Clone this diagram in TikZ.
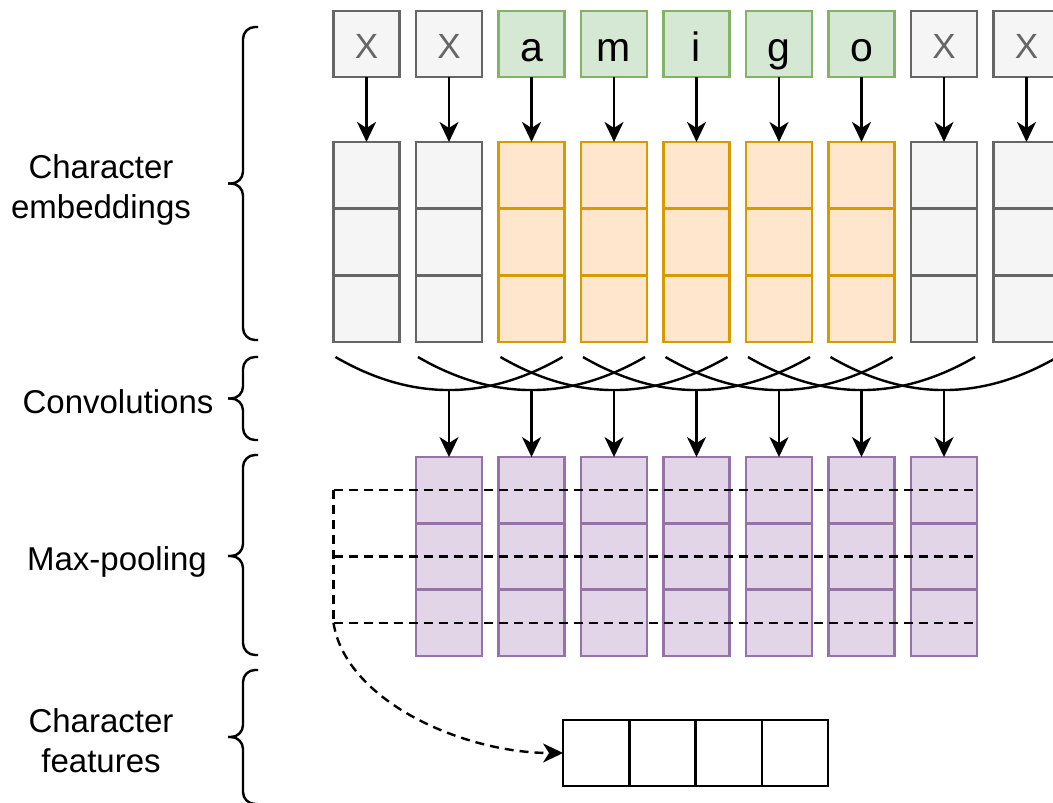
\documentclass[tikz,border=0pt]{standalone}
\usepackage{fontspec}
\setmainfont{Liberation Sans}
\usetikzlibrary{arrows.meta, positioning, calc}
\definecolor{PadFill}{HTML}{F5F5F5}
\definecolor{PadLine}{HTML}{666666}
\definecolor{CharFill}{HTML}{D5E8D4}
\definecolor{CharLine}{HTML}{82B366}
\definecolor{EmbFill}{HTML}{FFE6CC}
\definecolor{EmbLine}{HTML}{D79B00}
\definecolor{PoolFill}{HTML}{E1D5E7}
\definecolor{PoolLine}{HTML}{9673A6}
\tikzset{
  cell/.style={
    rectangle, line width=2.4pt, outer sep=0pt, inner sep=0pt,
    minimum width=66pt, minimum height=66.7pt
  },
  padbox/.style={
    cell, draw=PadLine, fill=PadFill, text=PadLine, minimum height=66pt,
    font=\fontsize{35}{35}\selectfont, text height=29pt, text depth=1pt
  },
  charbox/.style={
    cell, draw=CharLine, fill=CharFill, text=black, minimum height=66pt,
    font=\fontsize{41}{41}\selectfont, text height=35pt, text depth=1pt
  },
  padcell/.style={cell, draw=PadLine, fill=PadFill},
  embcell/.style={cell, draw=EmbLine, fill=EmbFill},
  poolcell/.style={cell, draw=PoolLine, fill=PoolFill, minimum height=66.3pt},
  featcell/.style={cell, draw=black, fill=white, minimum width=66.3pt, minimum height=66pt},
  stagelabel/.style={font=\fontsize{33}{40}\selectfont, align=center},
  stagebrace/.style={line width=2.4pt, rounded corners=12pt},
  convcurve/.style={line width=2.4pt},
  poolline/.style={line width=2.4pt, dash pattern=on 9pt off 6pt},
  arrow/.style={
    -{Stealth[length=20pt, width=19pt, inset=6pt]},
    line width=2.4pt
  }
}

\begin{document}
\begin{tikzpicture}[x=1pt, y=-1pt]

\useasboundingbox (0,0) rectangle (1053,803);

% ── Characters and their embedding columns ───────────────────────────────────

\foreach \k/\ch in {1/X, 2/X, 8/X, 9/X} {
  \node[padbox] (t\k) at ({366.5+82.5*(\k-1)}, 44) {\ch};
  \node[padcell] (e\k a) at ({366.5+82.5*(\k-1)}, 175.3) {};
  \node[padcell, below=0pt of e\k a] (e\k b) {};
  \node[padcell, below=0pt of e\k b] (e\k c) {};
  \draw[arrow] (t\k.south) -- (e\k a.north);
}

\foreach \k/\ch in {3/a, 4/m, 5/i, 6/g, 7/o} {
  \node[charbox] (t\k) at ({366.5+82.5*(\k-1)}, 44) {\ch};
  \node[embcell] (e\k a) at ({366.5+82.5*(\k-1)}, 175.3) {};
  \node[embcell, below=0pt of e\k a] (e\k b) {};
  \node[embcell, below=0pt of e\k b] (e\k c) {};
  \draw[arrow] (t\k.south) -- (e\k a.north);
}

% ── Max-pooling columns ──────────────────────────────────────────────────────

\foreach \i [evaluate=\i as \j using int(\i+1)] in {1,...,7} {
  \node[poolcell] (q\i a) at (e\j a |- 0,490.2) {};
  \node[poolcell, below=0pt of q\i a] (q\i b) {};
  \node[poolcell, below=0pt of q\i b] (q\i c) {};
}

% ── Convolution windows (three columns each) ─────────────────────────────────

\foreach \i [evaluate=\i as \j using int(\i+1), evaluate=\i as \k using int(\i+2)] in {1,...,7} {
  \coordinate (cv\i l) at ($(e\i c.south west)+(2,15)$);
  \coordinate (cv\i m) at ($(e\j c.south)+(0,48)$);
  \coordinate (cv\i r) at ($(e\k c.south east)+(-2,15)$);
  \draw[convcurve] (cv\i l) .. controls +(38,22) and +(-38,0) .. (cv\i m)
    .. controls +(38,0) and +(-38,22) .. (cv\i r);
  \draw[arrow] (cv\i m) -- (q\i a.north);
}

% ── Character features ───────────────────────────────────────────────────────

\node[featcell] (f1) at (596.2,753) {};
\node[featcell, right=0pt of f1] (f2) {};
\node[featcell, right=0pt of f2] (f3) {};
\node[featcell, right=0pt of f3] (f4) {};

% ── Pooling lines ────────────────────────────────────────────────────────────

\foreach \r in {a,b,c} {
  \coordinate (mp\r) at (e1a.west |- q1\r.center);
  \draw[poolline] (mp\r) -- (q7\r.east);
}
\draw[poolline] (mpa) -- (mpc);
\draw[poolline, arrow] (mpc) .. controls +(12,78) and +(-100,0) .. (f1.west);

% ── Stage braces and labels ──────────────────────────────────────────────────

\foreach \top/\tip/\bot in {27/183.5/340, 357/398.5/440, 455/556/655, 670/737/804} {
  \draw[stagebrace] (258,\top) -- (243,\top) -- (243,\tip) -- (228,\tip);
  \draw[stagebrace] (228,\tip) -- (243,\tip) -- (243,\bot) -- (258,\bot);
}

\node[stagelabel] (lblemb) at (101,190) {Character\\embeddings};
\node[stagelabel, anchor=base] (lblconv) at (118,413) {Convolutions};
\node[stagelabel, anchor=base] (lblpool) at (117,570) {Max-pooling};
\node[stagelabel] (lblfeat) at (101,741) {Character\\features};

\end{tikzpicture}
\end{document}
